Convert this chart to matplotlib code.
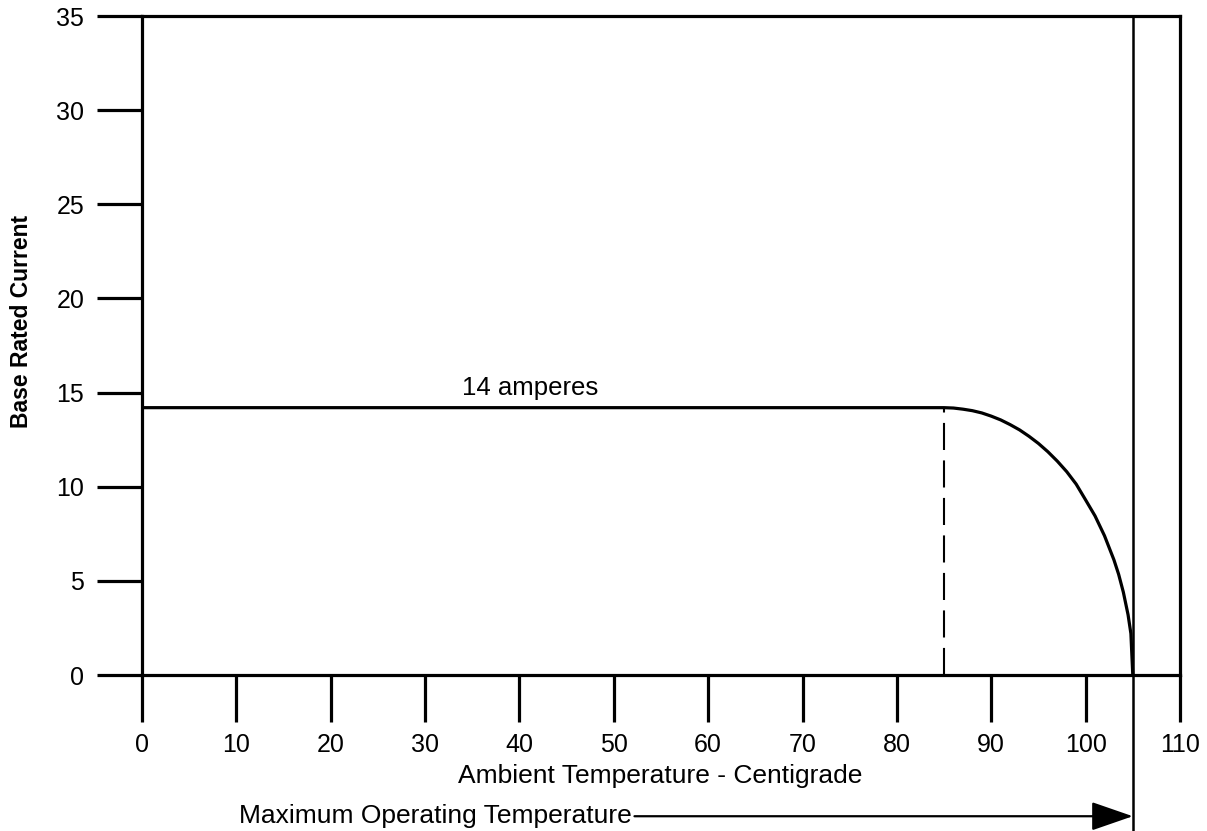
import matplotlib
matplotlib.use("Agg")
import matplotlib.pyplot as plt
import numpy as np

plt.rcParams['font.family'] = ['Liberation Sans', 'DejaVu Sans']

# derating curve
temp = [0, 85, 86, 87, 88, 89, 90, 91, 92, 93, 94, 95, 96, 97, 98, 99, 100,
        101, 102, 103, 103.5, 104, 104.5, 104.8, 105]
current = [14.2, 14.2, 14.18, 14.12, 14.04, 13.92, 13.75, 13.55, 13.3, 13.02,
           12.68, 12.3, 11.86, 11.36, 10.8, 10.14, 9.3, 8.45, 7.4, 6.12, 5.35,
           4.4, 3.2, 2.2, 0]

x_ticks = list(range(0, 111, 10))
y_ticks = list(range(0, 36, 5))
knee_temp = 85
max_temp = 105
rated = 14.2

fig = plt.figure(figsize=(12.07, 8.31), dpi=100)
ax = fig.add_axes([0.1176, 0.1877, 0.86, 0.793])

ax.plot(temp, current, color='black', lw=2.3, solid_capstyle='butt')
ax.plot([knee_temp, knee_temp], [0, rated], color='black', lw=1.5,
        linestyle=(0, (13, 5)))
ax.plot([max_temp, max_temp], [35, -8.4], color='black', lw=1.8, clip_on=False)

ax.text(33.9, 14.87, '14 amperes', fontsize=18.5, va='baseline', ha='left')

ax.set_xlim(0, 110)
ax.set_ylim(0, 35)
ax.set_xticks(x_ticks)
ax.set_yticks(y_ticks)
for s in ax.spines.values():
    s.set_linewidth(2.3)
ax.tick_params(axis='x', direction='out', length=34, width=2.3, pad=8,
               labelsize=18)
ax.tick_params(axis='y', direction='out', length=32.5, width=2.3, pad=9,
               labelsize=18)

ax.set_ylabel('Base Rated Current', fontsize=16.5, fontweight='bold')
ax.yaxis.set_label_coords(-0.105, 0.536)

ax.text(33.5, -5.74, 'Ambient Temperature - Centigrade', fontsize=19,
        ha='left', va='baseline')

ax.annotate('Maximum Operating Temperature', xy=(max_temp, -7.5),
            xytext=(10.28, -7.5), fontsize=19, va='center', ha='left',
            annotation_clip=False,
            arrowprops=dict(arrowstyle='-|>,head_length=1.3,head_width=0.45',
                            color='black', lw=1.6, shrinkA=0, shrinkB=0,
                            mutation_scale=20, relpos=(1, 0.5)))

fig.savefig('out.png', dpi=100)
